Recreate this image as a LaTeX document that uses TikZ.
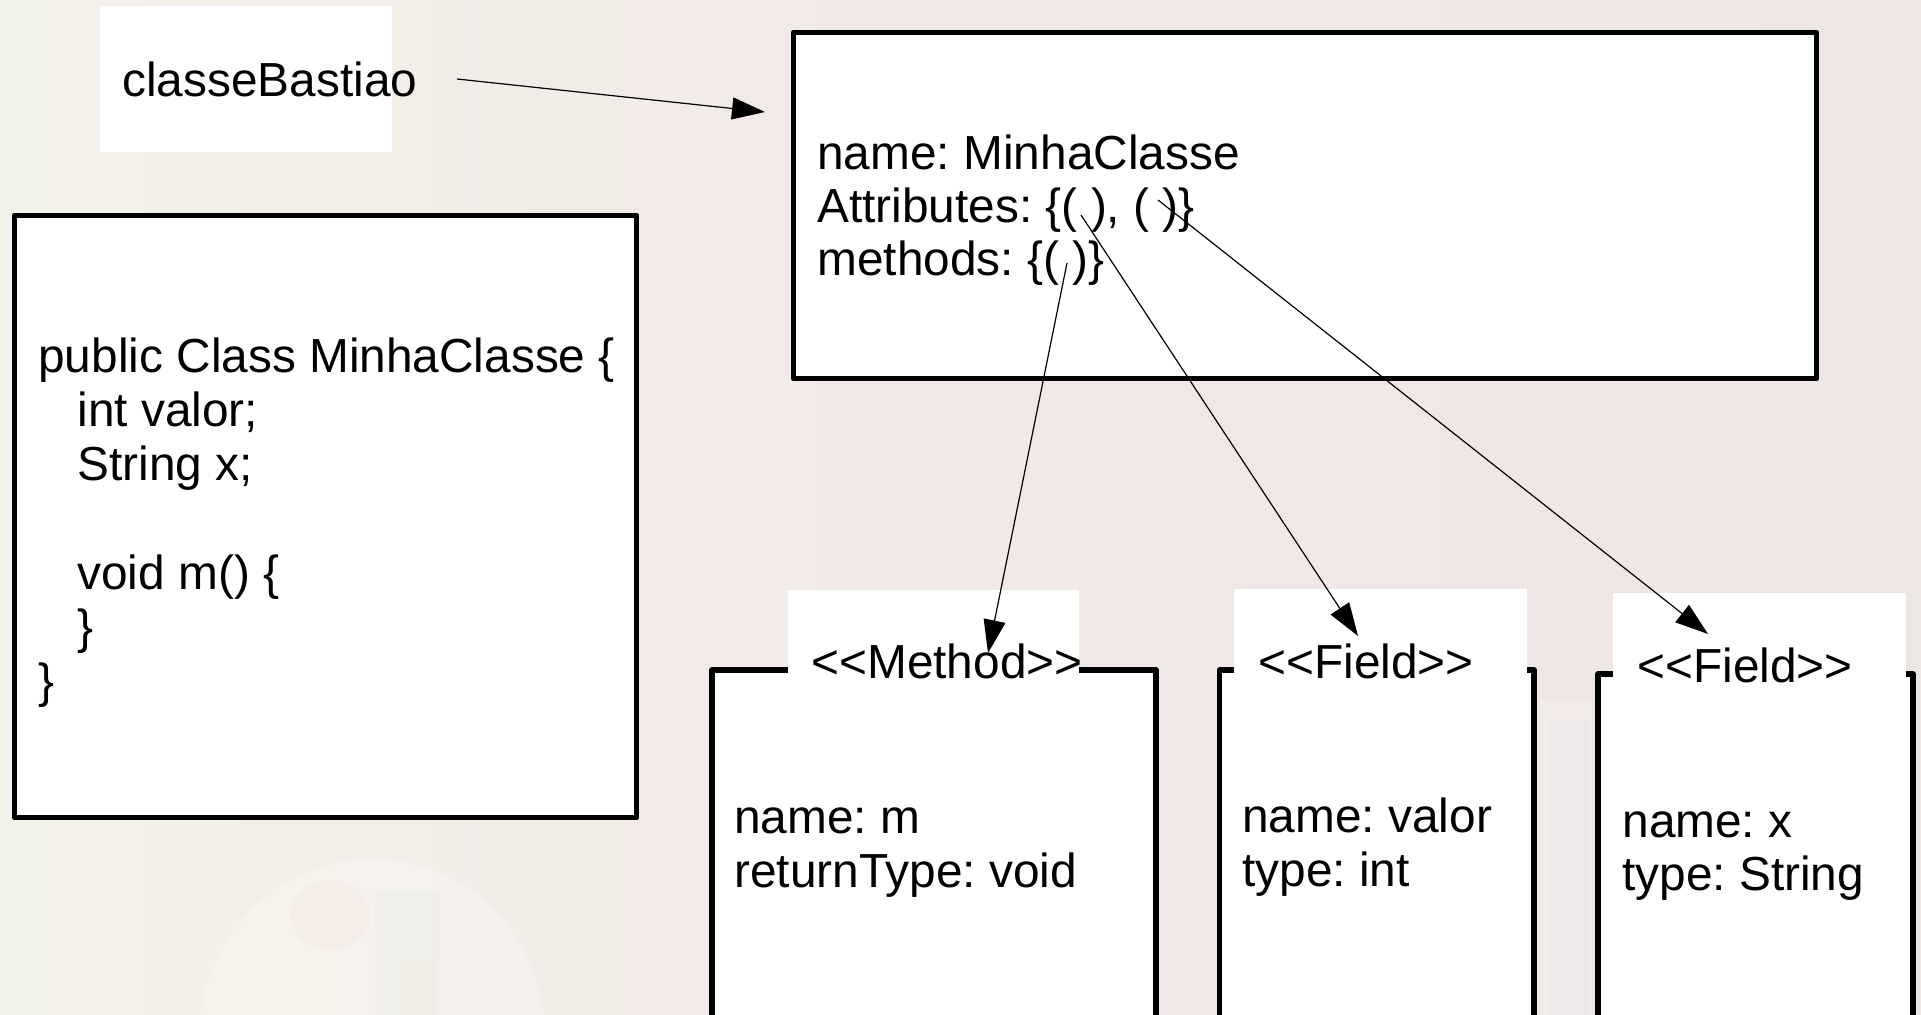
\documentclass[tikz,border=0pt]{standalone}
\usepackage{fontspec}
\setmainfont{Liberation Sans}
\usetikzlibrary{arrows.meta}
\definecolor{bgL}{RGB}{243,242,233}
\definecolor{bgM}{RGB}{242,232,230}
\definecolor{bgR}{RGB}{238,229,229}
\newcommand\fsz{\fontsize{23.9pt}{27pt}\selectfont\frenchspacing}
\begin{document}
\begin{tikzpicture}[x=0.5pt,y=-0.5pt,
  box/.style={draw=black, line width=2.8pt, fill=white, line join=round,
    inner sep=0pt, outer sep=0pt, anchor=north west},
  whitebox/.style={fill=white, inner sep=0pt, outer sep=0pt, anchor=north west},
  txt/.style={anchor=base west, inner sep=0pt, font=\fsz},
  conn/.style={line width=0.6pt, -{Triangle[length=16.5pt,width=11pt]}}]
\clip (0,0) rectangle (1921,1015);
% background
\shade[left color=bgL, right color=bgR, middle color=bgM] (0,0) rectangle (1921,1015);
\fill[white, opacity=0.25] (200,1015) .. controls (230,815) and (505,800) .. (545,1015) -- cycle;
\fill[red!40, opacity=0.06] (330,915) ellipse [x radius=40, y radius=35];
\fill[teal!40, opacity=0.06] (375,890) rectangle (440,1015);
\fill[orange!50, opacity=0.05] (400,960) rectangle (436,1015);
\fill[white, opacity=0.25] (1540,700) rectangle (1592,1015);
\fill[teal!30, opacity=0.06] (1550,720) rectangle (1590,1015);

% label box
\node[whitebox, minimum width=146pt, minimum height=73pt] (lb) at (100,6) {};
\node[txt] (bastiao) at (122,97) {classeBastiao};

% top box
\node[box, minimum width=511.5pt, minimum height=173pt] (top) at (793.5,32.5) {};
\node[txt] (t1) at (817,170) {name: MinhaClasse};
\node[txt] (t2) at (817,223) {Attributes: \{( ), ( )\}};
\node[txt] (t3) at (817,276) {methods: \{( )\}};

% code box
\node[box, minimum width=311pt, minimum height=301pt] (code) at (14.5,215.5) {};
\node[txt] (c1) at (38,373) {public Class MinhaClasse \{};
\node[txt] (c2) at (77,427) {int valor;};
\node[txt] (c3) at (77,481) {String x;};
\node[txt] (c4) at (77,589) {void m() \{};
\node[txt] (c5) at (77,643) {\}};
\node[txt] (c6) at (38,697) {\}};

% method box
\node[box, minimum width=222pt, minimum height=200pt] (mbox) at (712,670) {};
\node[whitebox, minimum width=145.5pt, minimum height=50pt] (mhead) at (788,590) {};
\node[txt] (mlabel) at (811,678) {<\kern0pt<Method>\kern0pt>};
\node[txt] (m1) at (734,833) {name: m};
\node[txt] (m2) at (734,887) {returnType: void};

% field 1
\node[box, minimum width=157.25pt, minimum height=200pt] (f1box) at (1219.5,670) {};
\node[whitebox, minimum width=146.5pt, minimum height=50pt] (f1head) at (1234,589) {};
\node[txt] (f1label) at (1258,678) {<\kern0pt<Field>\kern0pt>};
\node[txt] (f11) at (1242,832) {name: valor};
\node[txt] (f12) at (1242,886) {type: int};

% field 2
\node[box, minimum width=157.5pt, minimum height=200pt] (f2box) at (1598,674) {};
\node[whitebox, minimum width=146.5pt, minimum height=50pt] (f2head) at (1613,593) {};
\node[txt] (f2label) at (1637,682) {<\kern0pt<Field>\kern0pt>};
\node[txt] (f21) at (1622,837) {name: x};
\node[txt] (f22) at (1622,890) {type: String};

% connector ends
\coordinate (aS) at (457,79);
\coordinate (aE) at (765,112);
\coordinate (mS) at (1067,263);
\coordinate (mE) at (988,653);
\coordinate (p1S) at (1081,215);
\coordinate (p1E) at (1358,636);
\coordinate (p2S) at (1158,200);
\coordinate (p2E) at (1708,634);

\draw[conn] (aS) -- (aE);
\draw[conn] (mS) -- (mE);
\draw[conn] (p1S) -- (p1E);
\draw[conn] (p2S) -- (p2E);
\end{tikzpicture}
\end{document}
